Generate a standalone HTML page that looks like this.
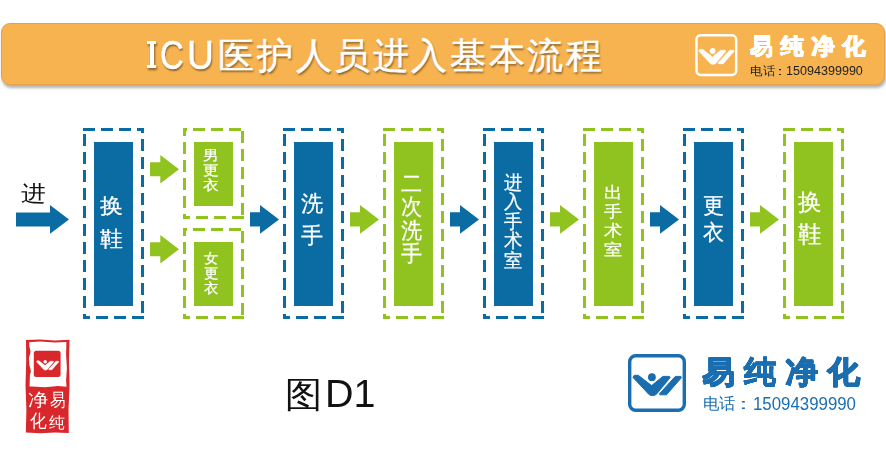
<!DOCTYPE html>
<html><head><meta charset="utf-8"><style>
html,body{margin:0;padding:0;background:#fff;}
body{width:886px;height:458px;position:relative;overflow:hidden;font-family:"Liberation Sans",sans-serif;}
.abs{position:absolute;}
.tx{position:absolute;white-space:nowrap;}
.vb{-webkit-text-stroke:0.25px #fff;}
#bar{position:absolute;left:1px;top:23px;width:882px;height:60px;background:#F7B350;border:1px solid #E5A04A;border-radius:9px;box-shadow:1px 3px 3px rgba(0,0,0,0.3);}
.tt{text-shadow:1px 2px 2px rgba(0,0,0,0.45);-webkit-text-stroke:0.5px #fff;}
#tiI{position:absolute;left:0;top:0;filter:drop-shadow(1px 2px 1px rgba(0,0,0,0.45));}
#tiI div{position:absolute;background:#fff;}

</style></head><body>
<div id="bar"></div>
<div id="tiI"><div style="left:147.1px;top:40.9px;width:9.3px;height:3.3px"></div><div style="left:150.4px;top:40.9px;width:3.8px;height:27.5px"></div><div style="left:147.1px;top:65.1px;width:9.3px;height:3.3px"></div></div>
<svg class="abs" style="left:0;top:0" width="886" height="458" viewBox="0 0 886 458">
<g stroke="#0B6CA3" stroke-width="3" stroke-dasharray="12 6" fill="none"><line x1="83" y1="129.5" x2="144" y2="129.5" stroke-dashoffset="0"/><line x1="142.5" y1="128" x2="142.5" y2="319" stroke-dashoffset="7"/><line x1="144" y1="317.5" x2="83" y2="317.5" stroke-dashoffset="0"/><line x1="84.5" y1="319" x2="84.5" y2="128" stroke-dashoffset="7"/></g>
<rect x="94" y="142" width="39" height="164" fill="#0B6CA3"/>
<g stroke="#0B6CA3" stroke-width="3" stroke-dasharray="12 6" fill="none"><line x1="283" y1="129.5" x2="344" y2="129.5" stroke-dashoffset="0"/><line x1="342.5" y1="128" x2="342.5" y2="319" stroke-dashoffset="7"/><line x1="344" y1="317.5" x2="283" y2="317.5" stroke-dashoffset="0"/><line x1="284.5" y1="319" x2="284.5" y2="128" stroke-dashoffset="7"/></g>
<rect x="294" y="142" width="39" height="164" fill="#0B6CA3"/>
<g stroke="#90C31F" stroke-width="3" stroke-dasharray="12 6" fill="none"><line x1="383" y1="129.5" x2="444" y2="129.5" stroke-dashoffset="0"/><line x1="442.5" y1="128" x2="442.5" y2="319" stroke-dashoffset="7"/><line x1="444" y1="317.5" x2="383" y2="317.5" stroke-dashoffset="0"/><line x1="384.5" y1="319" x2="384.5" y2="128" stroke-dashoffset="7"/></g>
<rect x="394" y="142" width="39" height="164" fill="#90C31F"/>
<g stroke="#0B6CA3" stroke-width="3" stroke-dasharray="12 6" fill="none"><line x1="483" y1="129.5" x2="544" y2="129.5" stroke-dashoffset="0"/><line x1="542.5" y1="128" x2="542.5" y2="319" stroke-dashoffset="7"/><line x1="544" y1="317.5" x2="483" y2="317.5" stroke-dashoffset="0"/><line x1="484.5" y1="319" x2="484.5" y2="128" stroke-dashoffset="7"/></g>
<rect x="494" y="142" width="39" height="164" fill="#0B6CA3"/>
<g stroke="#90C31F" stroke-width="3" stroke-dasharray="12 6" fill="none"><line x1="583" y1="129.5" x2="644" y2="129.5" stroke-dashoffset="0"/><line x1="642.5" y1="128" x2="642.5" y2="319" stroke-dashoffset="7"/><line x1="644" y1="317.5" x2="583" y2="317.5" stroke-dashoffset="0"/><line x1="584.5" y1="319" x2="584.5" y2="128" stroke-dashoffset="7"/></g>
<rect x="594" y="142" width="39" height="164" fill="#90C31F"/>
<g stroke="#0B6CA3" stroke-width="3" stroke-dasharray="12 6" fill="none"><line x1="683" y1="129.5" x2="744" y2="129.5" stroke-dashoffset="0"/><line x1="742.5" y1="128" x2="742.5" y2="319" stroke-dashoffset="7"/><line x1="744" y1="317.5" x2="683" y2="317.5" stroke-dashoffset="0"/><line x1="684.5" y1="319" x2="684.5" y2="128" stroke-dashoffset="7"/></g>
<rect x="694" y="142" width="39" height="164" fill="#0B6CA3"/>
<g stroke="#90C31F" stroke-width="3" stroke-dasharray="12 6" fill="none"><line x1="783" y1="129.5" x2="844" y2="129.5" stroke-dashoffset="0"/><line x1="842.5" y1="128" x2="842.5" y2="319" stroke-dashoffset="7"/><line x1="844" y1="317.5" x2="783" y2="317.5" stroke-dashoffset="0"/><line x1="784.5" y1="319" x2="784.5" y2="128" stroke-dashoffset="7"/></g>
<rect x="794" y="142" width="39" height="164" fill="#90C31F"/>
<g stroke="#90C31F" stroke-width="3" stroke-dasharray="12 6" fill="none"><line x1="183" y1="129.5" x2="244" y2="129.5" stroke-dashoffset="8"/><line x1="242.5" y1="128" x2="242.5" y2="219" stroke-dashoffset="15"/><line x1="244" y1="217.5" x2="183" y2="217.5" stroke-dashoffset="0"/><line x1="184.5" y1="219" x2="184.5" y2="128" stroke-dashoffset="7"/></g>
<rect x="194" y="142" width="39" height="64" fill="#90C31F"/>
<g stroke="#90C31F" stroke-width="3" stroke-dasharray="12 6" fill="none"><line x1="183" y1="229.5" x2="244" y2="229.5" stroke-dashoffset="8"/><line x1="242.5" y1="228" x2="242.5" y2="319" stroke-dashoffset="15"/><line x1="244" y1="317.5" x2="183" y2="317.5" stroke-dashoffset="0"/><line x1="184.5" y1="319" x2="184.5" y2="228" stroke-dashoffset="7"/></g>
<rect x="194" y="242" width="39" height="64" fill="#90C31F"/>
<polygon fill="#0B6CA3" points="16.0,212.4 50.0,212.4 50.0,205.1 69.0,219.4 50.0,233.7 50.0,226.4 16.0,226.4"/>
<polygon fill="#90C31F" points="150.0,162.2 160.3,162.2 160.3,154.9 179.0,169.2 160.3,183.5 160.3,176.2 150.0,176.2"/>
<polygon fill="#90C31F" points="150.0,242.2 160.3,242.2 160.3,234.9 179.0,249.2 160.3,263.5 160.3,256.2 150.0,256.2"/>
<polygon fill="#0B6CA3" points="250.0,212.2 260.0,212.2 260.0,205.0 279.0,219.4 260.0,233.8 260.0,226.6 250.0,226.6"/>
<polygon fill="#90C31F" points="350.0,212.2 360.0,212.2 360.0,205.0 379.0,219.4 360.0,233.8 360.0,226.6 350.0,226.6"/>
<polygon fill="#0B6CA3" points="450.0,212.2 460.0,212.2 460.0,205.0 479.0,219.4 460.0,233.8 460.0,226.6 450.0,226.6"/>
<polygon fill="#90C31F" points="550.0,212.2 560.0,212.2 560.0,205.0 579.0,219.4 560.0,233.8 560.0,226.6 550.0,226.6"/>
<polygon fill="#0B6CA3" points="650.0,212.2 660.0,212.2 660.0,205.0 679.0,219.4 660.0,233.8 660.0,226.6 650.0,226.6"/>
<polygon fill="#90C31F" points="750.0,212.2 760.0,212.2 760.0,205.0 779.0,219.4 760.0,233.8 760.0,226.6 750.0,226.6"/>
<g transform="translate(628,354) scale(1.0)"><rect x="1.7" y="1.7" width="54.6" height="54.6" rx="6" fill="none" stroke="#1A6DAF" stroke-width="3.4"/><polygon points="6.2,21.3 10.3,21.3 23.6,31.6 34.9,22.4 41.5,22.4 42.2,23.5 28.4,40.3 26.3,41.4 22.6,41.4 20.9,40.4 5.0,23.4" fill="#1A6DAF" stroke="#1A6DAF" stroke-width="1.0" stroke-linejoin="round"/><polygon points="47.3,22.4 52.9,22.4 53.4,23.7 38.5,40.8 32.1,40.8 31.4,39.9" fill="#1A6DAF" stroke="#1A6DAF" stroke-width="1.0" stroke-linejoin="round"/><circle cx="23.9" cy="23.2" r="3.9" fill="#1A6DAF"/></g>
<g transform="translate(695.2,34) scale(0.728)"><rect x="1.7" y="1.7" width="54.6" height="54.6" rx="6" fill="none" stroke="#fff" stroke-width="3.4"/><polygon points="6.2,21.3 10.3,21.3 23.6,31.6 34.9,22.4 41.5,22.4 42.2,23.5 28.4,40.3 26.3,41.4 22.6,41.4 20.9,40.4 5.0,23.4" fill="#fff" stroke="#fff" stroke-width="1.0" stroke-linejoin="round"/><polygon points="47.3,22.4 52.9,22.4 53.4,23.7 38.5,40.8 32.1,40.8 31.4,39.9" fill="#fff" stroke="#fff" stroke-width="1.0" stroke-linejoin="round"/><circle cx="23.9" cy="23.2" r="3.9" fill="#fff"/></g>
<path fill="#D8282C" d="M26,340 L40,339.5 L55,340.5 L69.5,339.8 L69,360 L69.6,385 L68.5,410 L68.8,433 L55,432.5 L40,433.2 L25.8,432.6 L26.4,410 L25.5,385 L26.2,360 Z"/>
<path fill="#fff" d="M29.2,342.2 L40,341.6 L55,342.4 L66.4,341.9 L66.1,355 L66.9,368 L66.1,380 L66.5,386.8 L58,386.1 L45,387.3 L32,386.4 L29.6,386.6 L29.9,375 L31,371.5 L29.4,365 L28.9,358 L30.6,352 L29.3,346 Z"/>
<rect x="33.8" y="350.7" width="26.8" height="26.2" rx="2.5" fill="#D8282C"/>
<g transform="translate(34.2,351) scale(0.46)"><polygon points="6.2,21.3 10.3,21.3 23.6,31.6 34.9,22.4 41.5,22.4 42.2,23.5 28.4,40.3 26.3,41.4 22.6,41.4 20.9,40.4 5.0,23.4" fill="#fff" stroke="#fff" stroke-width="1.0" stroke-linejoin="round"/><polygon points="47.3,22.4 52.9,22.4 53.4,23.7 38.5,40.8 32.1,40.8 31.4,39.9" fill="#fff" stroke="#fff" stroke-width="1.0" stroke-linejoin="round"/><circle cx="23.9" cy="23.2" r="3.9" fill="#fff"/></g>
</svg>
<div id="t1" class="tx  vb" style="left:99.83px;top:190.29px;font-size:21.26px;line-height:32.50px;color:#fff;transform:scale(1.087,1.000);transform-origin:0 0;"><div style="height:32.5px">换</div><div style="height:32.5px">鞋</div></div>
<div id="t2" class="tx  vb" style="left:203.18px;top:148.37px;font-size:13.87px;line-height:15.00px;color:#fff;transform:scale(1.119,1.000);transform-origin:0 0;"><div style="height:15.0px">男</div><div style="height:15.0px">更</div><div style="height:15.0px">衣</div></div>
<div id="t3" class="tx  vb" style="left:203.52px;top:251.36px;font-size:14.23px;line-height:15.00px;color:#fff;transform:scale(1.027,1.000);transform-origin:0 0;"><div style="height:15.0px">女</div><div style="height:15.0px">更</div><div style="height:15.0px">衣</div></div>
<div id="t4" class="tx  vb" style="left:300.61px;top:187.60px;font-size:21.65px;line-height:32.60px;color:#fff;transform:scale(1.005,1.000);transform-origin:0 0;"><div style="height:32.6px">洗</div><div style="height:32.6px">手</div></div>
<div id="t5" class="tx  vb" style="left:400.61px;top:172.14px;font-size:22.16px;line-height:23.30px;color:#fff;transform:scale(0.959,1.000);transform-origin:0 0;"><div style="height:23.3px">二</div><div style="height:23.3px">次</div><div style="height:23.3px">洗</div><div style="height:23.3px">手</div></div>
<div id="t6" class="tx  vb" style="left:503.84px;top:172.50px;font-size:18.90px;line-height:19.50px;color:#fff;transform:scale(0.967,1.000);transform-origin:0 0;"><div style="height:19.5px">进</div><div style="height:19.5px">入</div><div style="height:19.5px">手</div><div style="height:19.5px">术</div><div style="height:19.5px">室</div></div>
<div id="t7" class="tx  vb" style="left:604.28px;top:184.12px;font-size:15.76px;line-height:18.80px;color:#fff;transform:scale(1.140,1.000);transform-origin:0 0;"><div style="height:18.8px">出</div><div style="height:18.8px">手</div><div style="height:18.8px">术</div><div style="height:18.8px">室</div></div>
<div id="t8" class="tx  vb" style="left:702.80px;top:193.41px;font-size:21.56px;line-height:26.20px;color:#fff;transform:scale(0.955,1.000);transform-origin:0 0;"><div style="height:26.2px">更</div><div style="height:26.2px">衣</div></div>
<div id="t9" class="tx  vb" style="left:798.16px;top:185.54px;font-size:23.44px;line-height:32.00px;color:#fff;transform:scale(1.021,1.000);transform-origin:0 0;"><div style="height:32.0px">换</div><div style="height:32.0px">鞋</div></div>
<div id="t10" class="tx " style="left:21.10px;top:179.21px;font-size:21.65px;line-height:30.00px;color:#111;transform:scale(1.133,1.000);transform-origin:0 0;"><div style="height:30px">进</div></div>
<div id="tiC" class="tx tt" style="left:159.58px;top:30.26px;font-size:41.28px;line-height:50.00px;color:#fff;transform:scale(0.796,1.000);transform-origin:0 0;">C</div>
<div id="tiU" class="tx tt" style="left:187.24px;top:30.17px;font-size:41.35px;line-height:50.00px;color:#fff;transform:scale(0.900,1.000);transform-origin:0 0;">U</div>
<div id="tiK" class="tx tt" style="left:218.46px;top:31.00px;font-size:36.00px;line-height:50.00px;color:#fff;letter-spacing:2.60px;">医护人员进入基本流程</div>
<div id="lgA" class="tx " style="left:749.86px;top:31.40px;font-size:23.00px;line-height:30.00px;color:#fff;letter-spacing:7.84px;font-weight:bold;text-shadow:0.25px 0.00px 0 #fff,-0.25px 0.00px 0 #fff,0.00px 0.25px 0 #fff,0.00px -0.25px 0 #fff,0.17px 0.17px 0 #fff,-0.17px 0.17px 0 #fff,0.17px -0.17px 0 #fff,-0.17px -0.17px 0 #fff;">易纯净化</div>
<div id="lgB" class="tx " style="left:750.31px;top:62.94px;font-size:11.85px;line-height:16.00px;color:#222;transform:scale(1.049,1.000);transform-origin:0 0;">电话</div>
<div id="lgD" class="tx " style="left:777.32px;top:63.54px;font-size:10.05px;line-height:16.00px;color:#222;transform:scale(2.170,1.000);transform-origin:0 0;">:</div>
<div id="lgC" class="tx " style="left:786.04px;top:62.60px;font-size:13.63px;line-height:16.00px;color:#222;transform:scale(0.922,1.000);transform-origin:0 0;">15094399990</div>
<div id="bgA" class="tx " style="left:702.35px;top:352.59px;font-size:32.00px;line-height:40.00px;color:#1A6DAF;transform:scale(1.000,0.953);transform-origin:0 0;letter-spacing:9.66px;font-weight:bold;text-shadow:0.40px 0.00px 0 #1A6DAF,-0.40px 0.00px 0 #1A6DAF,0.00px 0.40px 0 #1A6DAF,0.00px -0.40px 0 #1A6DAF,0.28px 0.28px 0 #1A6DAF,-0.28px 0.28px 0 #1A6DAF,0.28px -0.28px 0 #1A6DAF,-0.28px -0.28px 0 #1A6DAF;">易纯净化</div>
<div id="bgB" class="tx " style="left:702.92px;top:393.66px;font-size:15.58px;line-height:20.00px;color:#1A6DAF;transform:scale(1.023,1.000);transform-origin:0 0;">电话</div>
<div id="bgD" class="tx " style="left:739.10px;top:394.32px;font-size:15.15px;line-height:20.00px;color:#1A6DAF;transform:scale(2.079,1.000);transform-origin:0 0;">:</div>
<div id="bgC" class="tx " style="left:752.77px;top:393.75px;font-size:18.00px;line-height:20.00px;color:#1A6DAF;transform:scale(0.935,1.000);transform-origin:0 0;">15094399990</div>
<div id="sl1" class="tx " style="left:49.90px;top:391.26px;font-size:17.65px;line-height:18.00px;color:#fff;transform:scale(0.863,1.000);transform-origin:0 0;">易</div>
<div id="sl2" class="tx " style="left:48.60px;top:413.19px;font-size:16.44px;line-height:18.00px;color:#fff;transform:scale(0.994,1.000);transform-origin:0 0;">纯</div>
<div id="sl3" class="tx " style="left:28.36px;top:391.26px;font-size:17.65px;line-height:18.00px;color:#fff;transform:scale(1.120,1.000);transform-origin:0 0;">净</div>
<div id="sl4" class="tx " style="left:29.65px;top:411.79px;font-size:17.55px;line-height:18.00px;color:#fff;transform:scale(0.928,1.000);transform-origin:0 0;">化</div>
<div id="fg1" class="tx " style="left:284.90px;top:372.64px;font-size:35.86px;line-height:44.00px;color:#111;transform:scale(1.034,1.000);transform-origin:0 0;">图</div>
<div id="fg2" class="tx " style="left:324.76px;top:370.60px;font-size:39.61px;line-height:44.00px;color:#111;transform:scale(0.998,1.000);transform-origin:0 0;">D1</div>
</body></html>
